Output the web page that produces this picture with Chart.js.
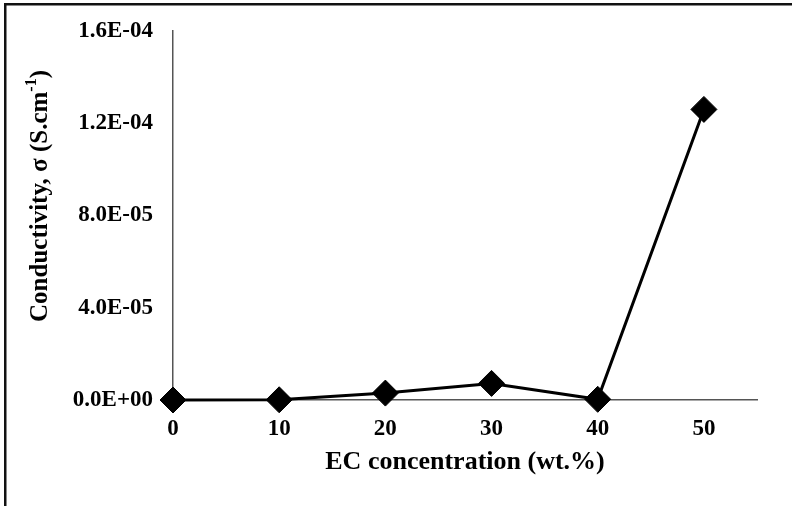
<!DOCTYPE html>
<html>
<head>
<meta charset="utf-8">
<script src="https://cdn.jsdelivr.net/npm/chart.js@4.4.1/dist/chart.umd.min.js"></script>
<style>
  html, body { margin: 0; padding: 0; background: #ffffff; }
  #wrap { width: 792px; height: 506px; position: relative; }
</style>
</head>
<body>
<div id="wrap"><canvas id="condChart"></canvas></div>
<script>
const ecConcentration = [0, 10, 20, 30, 40, 50]
const conductivity = [0, 1e-7, 3.0e-6, 7.2e-6, 3e-7, 1.26e-4]
const xTickValues = [0, 10, 20, 30, 40, 50]
const yTickValues = [0, 4e-5, 8e-5, 1.2e-4, 1.6e-4]

const serif = "'Liberation Serif', 'Times New Roman', serif"

// Excel style scientific labels, e.g. 4.0E-05
function sciLabel(v) {
  const parts = Number(v).toExponential(1).split("e")
  const sign = parts[1][0] === "-" ? "-" : "+"
  const exp = parts[1].replace(/[+-]/, "").padStart(2, "0")
  return parts[0] + "E" + sign + exp
}

// y axis title with a real superscript, plus the frame lines of the picture
const decorations = {
  id: "decorations",
  afterDraw(chart) {
    const ctx = chart.ctx
    ctx.save()
    ctx.fillStyle = "#111111"
    ctx.fillRect(4, 3, 2.5, 503)
    ctx.fillRect(4, 3, 788, 2.5)

    const main = "Conductivity, \u03c3 (S.cm"
    const sup = "-1"
    const tail = ")"
    const big = "bold 25px " + serif
    const small = "bold 16px " + serif
    ctx.font = big
    const wMain = ctx.measureText(main).width
    const wTail = ctx.measureText(tail).width
    ctx.font = small
    const wSup = ctx.measureText(sup).width
    const total = wMain + wSup + wTail

    ctx.translate(41, 196)
    ctx.rotate(-Math.PI / 2)
    ctx.fillStyle = "#000000"
    ctx.textBaseline = "middle"
    ctx.textAlign = "left"
    let x = -total / 2
    ctx.font = big
    ctx.fillText(main, x, 0)
    x += wMain
    ctx.font = small
    ctx.fillText(sup, x, -9)
    x += wSup
    ctx.font = big
    ctx.fillText(tail, x, 0)
    ctx.restore()
  }
}

Chart.defaults.font.family = serif
Chart.defaults.font.weight = "bold"
Chart.defaults.color = "#000000"

new Chart(document.getElementById("condChart"), {
  type: "line",
  data: {
    datasets: [
      {
        data: ecConcentration.map((x, i) => ({ x: x, y: conductivity[i] })),
        borderColor: "#000000",
        borderWidth: 3,
        backgroundColor: "#000000",
        pointStyle: "rectRot",
        pointRadius: 13,
        pointBorderWidth: 1,
        pointBackgroundColor: "#000000",
        pointBorderColor: "#000000",
        tension: 0,
        clip: false
      }
    ]
  },
  options: {
    responsive: true,
    maintainAspectRatio: false,
    animation: false,
    layout: {
      padding: { left: 0, top: 31, right: 35, bottom: 0 }
    },
    scales: {
      x: {
        type: "linear",
        min: 0,
        max: 55,
        grid: { display: false },
        border: { display: true, color: "#555555", width: 1.5 },
        afterBuildTicks: axis => {
          axis.ticks = xTickValues.map(v => ({ value: v }))
        },
        afterFit: axis => {
          axis.height = 106
        },
        ticks: {
          padding: 7,
          maxRotation: 0,
          font: { size: 23, weight: "bold" }
        },
        title: {
          display: true,
          text: "EC concentration (wt.%)",
          font: { size: 26, weight: "bold" },
          padding: { top: 0, bottom: 28 }
        }
      },
      y: {
        min: 0,
        max: 1.6e-4,
        grid: { display: false },
        border: { display: true, color: "#555555", width: 1.5 },
        afterBuildTicks: axis => {
          axis.ticks = yTickValues.map(v => ({ value: v }))
        },
        afterFit: axis => {
          axis.width = 173
        },
        ticks: {
          padding: 12,
          font: { size: 23, weight: "bold" },
          callback: v => sciLabel(v)
        }
      }
    },
    plugins: {
      legend: { display: false },
      tooltip: { enabled: false }
    }
  },
  plugins: [decorations]
})
</script>
</body>
</html>
